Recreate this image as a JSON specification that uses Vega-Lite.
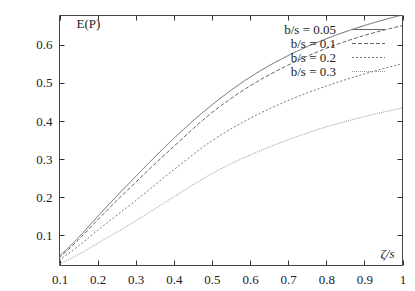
{
  "$schema": "https://vega.github.io/schema/vega-lite/v6.json",
  "width": 343,
  "height": 250,
  "autosize": {"type": "none"},
  "padding": {"left": 59, "top": 15, "right": 13, "bottom": 26},
  "background": "white",
  "config": {
    "view": {"stroke": "#444", "strokeWidth": 1},
    "font": "Liberation Serif",
    "axis": {"ticks": true, "tickColor": "#333", "tickOpacity": 1, "tickWidth": 1, "tickOffset": 0.5, "labelFlush": false}
  },
  "data": {"values": [
    {"z": 0.1, "v": 0.043, "s": "b/s = 0.05"},
    {"z": 0.15, "v": 0.092, "s": "b/s = 0.05"},
    {"z": 0.2, "v": 0.147, "s": "b/s = 0.05"},
    {"z": 0.3, "v": 0.252, "s": "b/s = 0.05"},
    {"z": 0.4, "v": 0.352, "s": "b/s = 0.05"},
    {"z": 0.5, "v": 0.44, "s": "b/s = 0.05"},
    {"z": 0.6, "v": 0.513, "s": "b/s = 0.05"},
    {"z": 0.7, "v": 0.57, "s": "b/s = 0.05"},
    {"z": 0.8, "v": 0.614, "s": "b/s = 0.05"},
    {"z": 0.9, "v": 0.649, "s": "b/s = 0.05"},
    {"z": 1.0, "v": 0.677, "s": "b/s = 0.05"},
    {"z": 0.1, "v": 0.039, "s": "b/s = 0.1"},
    {"z": 0.15, "v": 0.086, "s": "b/s = 0.1"},
    {"z": 0.2, "v": 0.138, "s": "b/s = 0.1"},
    {"z": 0.3, "v": 0.237, "s": "b/s = 0.1"},
    {"z": 0.4, "v": 0.331, "s": "b/s = 0.1"},
    {"z": 0.5, "v": 0.42, "s": "b/s = 0.1"},
    {"z": 0.6, "v": 0.49, "s": "b/s = 0.1"},
    {"z": 0.7, "v": 0.545, "s": "b/s = 0.1"},
    {"z": 0.8, "v": 0.589, "s": "b/s = 0.1"},
    {"z": 0.9, "v": 0.623, "s": "b/s = 0.1"},
    {"z": 1.0, "v": 0.649, "s": "b/s = 0.1"},
    {"z": 0.1, "v": 0.033, "s": "b/s = 0.2"},
    {"z": 0.15, "v": 0.07, "s": "b/s = 0.2"},
    {"z": 0.2, "v": 0.111, "s": "b/s = 0.2"},
    {"z": 0.3, "v": 0.189, "s": "b/s = 0.2"},
    {"z": 0.4, "v": 0.27, "s": "b/s = 0.2"},
    {"z": 0.5, "v": 0.346, "s": "b/s = 0.2"},
    {"z": 0.6, "v": 0.405, "s": "b/s = 0.2"},
    {"z": 0.7, "v": 0.452, "s": "b/s = 0.2"},
    {"z": 0.8, "v": 0.49, "s": "b/s = 0.2"},
    {"z": 0.9, "v": 0.522, "s": "b/s = 0.2"},
    {"z": 1.0, "v": 0.549, "s": "b/s = 0.2"},
    {"z": 0.1, "v": 0.023, "s": "b/s = 0.3"},
    {"z": 0.15, "v": 0.048, "s": "b/s = 0.3"},
    {"z": 0.2, "v": 0.077, "s": "b/s = 0.3"},
    {"z": 0.3, "v": 0.136, "s": "b/s = 0.3"},
    {"z": 0.4, "v": 0.199, "s": "b/s = 0.3"},
    {"z": 0.5, "v": 0.26, "s": "b/s = 0.3"},
    {"z": 0.6, "v": 0.309, "s": "b/s = 0.3"},
    {"z": 0.7, "v": 0.349, "s": "b/s = 0.3"},
    {"z": 0.8, "v": 0.383, "s": "b/s = 0.3"},
    {"z": 0.9, "v": 0.41, "s": "b/s = 0.3"},
    {"z": 1.0, "v": 0.433, "s": "b/s = 0.3"}
  ]},
  "layer": [
    {
      "mark": {"type": "line", "interpolate": "monotone", "strokeWidth": 1, "clip": true},
      "encoding": {
        "x": {"field": "z", "type": "quantitative",
          "scale": {"domain": [0.1, 1], "nice": false, "zero": false},
          "axis": {"orient": "bottom", "offset": -5, "values": [0.1,0.2,0.3,0.4,0.5,0.6,0.7,0.8,0.9,1], "format": "~g",
            "domain": false, "grid": false, "tickSize": 5, "labelPadding": 8,
            "labelFont": "Liberation Serif", "labelFontSize": 13, "labelColor": "#222",
            "title": "ζ/s", "titleFont": "Liberation Serif", "titleFontStyle": "italic", "titleFontWeight": "normal", "titleFontSize": 13, "titleColor": "#222",
            "titleX": 328, "titleY": -7, "titleAlign": "center", "titleBaseline": "middle"}},
        "y": {"field": "v", "type": "quantitative",
          "scale": {"domain": [0.021, 0.677], "nice": false, "zero": false},
          "axis": {"orient": "left", "offset": -5, "values": [0.1,0.2,0.3,0.4,0.5,0.6], "format": ".1f",
            "domain": false, "grid": false, "tickSize": 5, "labelPadding": 7,
            "labelFont": "Liberation Serif", "labelFontSize": 13, "labelColor": "#222", "title": null}},
        "strokeDash": {"field": "s", "type": "nominal",
          "scale": {"domain": ["b/s = 0.05", "b/s = 0.1", "b/s = 0.2", "b/s = 0.3"], "range": [[1,0],[4,2],[2,2],[1,1]]},
          "legend": {"orient": "none", "legendX": 303, "legendY": 8, "title": null,
            "symbolType": "M-2.75,0H2.75", "symbolSize": 144, "symbolStrokeWidth": 1,
            "rowPadding": -4,
            "labelAlign": "right", "labelOffset": -39, "labelFont": "Liberation Serif", "labelFontSize": 13, "labelColor": "#222"}},
        "color": {"field": "s", "type": "nominal",
          "scale": {"domain": ["b/s = 0.05", "b/s = 0.1", "b/s = 0.2", "b/s = 0.3"], "range": ["#666", "#666", "#777", "#999"]},
          "legend": {"orient": "none", "legendX": 303, "legendY": 8, "title": null,
            "symbolType": "M-2.75,0H2.75", "symbolSize": 144, "symbolStrokeWidth": 1,
            "rowPadding": -4,
            "labelAlign": "right", "labelOffset": -39, "labelFont": "Liberation Serif", "labelFontSize": 13, "labelColor": "#222"}}
      }
    },
    {
      "mark": {"type": "line", "opacity": 0},
      "encoding": {
        "x": {"field": "z", "type": "quantitative",
          "axis": {"orient": "top", "offset": -5, "values": [0.1,0.2,0.3,0.4,0.5,0.6,0.7,0.8,0.9,1], "labels": false, "domain": false, "grid": false, "tickSize": 5,
            "title": "E(P)", "titleFont": "Liberation Serif", "titleFontWeight": "normal", "titleFontSize": 13, "titleColor": "#222",
            "titleX": 17, "titleY": 3, "titleAlign": "left", "titleBaseline": "middle", "titleAngle": 0}},
        "y": {"field": "v", "type": "quantitative",
          "axis": {"orient": "right", "offset": -5, "values": [0.1,0.2,0.3,0.4,0.5,0.6], "labels": false, "domain": false, "grid": false, "tickSize": 5, "title": null}},
        "detail": {"field": "s"}
      }
    }
  ],
  "resolve": {"axis": {"x": "independent", "y": "independent"}}
}
